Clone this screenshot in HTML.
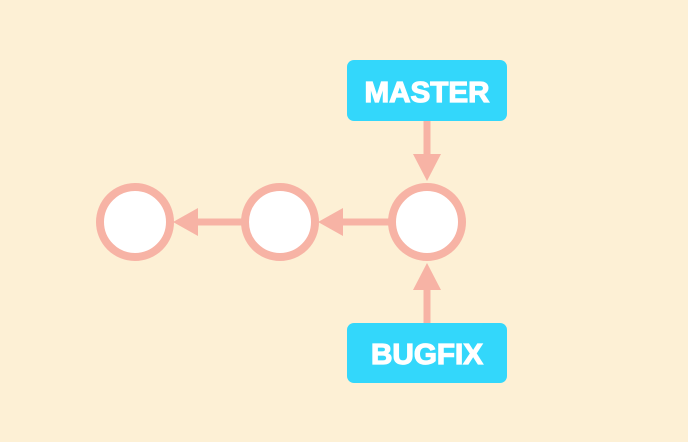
<!DOCTYPE html>
<html><head><style>html,body{margin:0;padding:0;background:#fdf0d5;}</style></head>
<body>
<svg width="688" height="437" viewBox="0 0 688 437" xmlns="http://www.w3.org/2000/svg">
<rect width="688" height="437" fill="#fdf0d5"/>
<g fill="#fff" stroke="#f7b3a5" stroke-width="8">
<circle cx="135" cy="222" r="35"/>
<circle cx="280" cy="222" r="35"/>
<circle cx="427" cy="222" r="35"/>
</g>
<g stroke="#f7b3a5" stroke-width="7">
<line x1="196" y1="222" x2="242" y2="222"/>
<line x1="341" y1="222" x2="389" y2="222"/>
<line x1="427" y1="120" x2="427" y2="155"/>
<line x1="427" y1="288" x2="427" y2="324"/>
</g>
<g fill="#f7b3a5">
<polygon points="173,222 198,208 198,236"/>
<polygon points="318,222 343,208 343,236"/>
<polygon points="427,181 413,154 441,154"/>
<polygon points="427,263 413,290 441,290"/>
</g>
<rect x="347" y="60" width="160" height="61" rx="7" fill="#33d7fb"/>
<rect x="347" y="323" width="160" height="60" rx="7" fill="#33d7fb"/>
<g fill="#fff" stroke="#fff" stroke-width="1.2" font-family="Liberation Sans, sans-serif" font-weight="bold" font-size="29" text-anchor="middle">
<text x="427" y="102" textLength="125" lengthAdjust="spacingAndGlyphs">MASTER</text>
<text x="427" y="364" textLength="112" lengthAdjust="spacingAndGlyphs">BUGFIX</text>
</g>
</svg>
</body></html>
